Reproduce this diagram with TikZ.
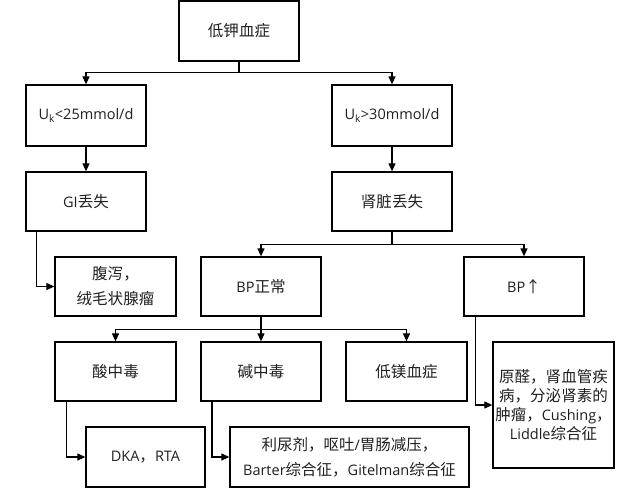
\documentclass[tikz,border=0pt]{standalone}
\usepackage{fontspec}
\setmainfont{Open Sans}
\newfontfamily\cjk{Noto Sans CJK SC}[Scale=1.07]
\usetikzlibrary{arrows.meta,calc}
\tikzset{
  box/.style={draw=black, line width=1.3pt, rectangle, inner sep=0pt, align=center,
    text=black!88, font=\fontsize{14.5}{25}\selectfont},
  arr/.style={draw=black, line width=1.2pt, -{Triangle[length=8pt,width=7pt]}},
  ln/.style={draw=black, line width=1.2pt}
}
\begin{document}
\begin{tikzpicture}[x=1pt,y=-1pt]
\useasboundingbox (0,0) rectangle (640,491);
% row 1
\node[box, minimum width=120pt, minimum height=60pt] (top) at (239,31) {\cjk 低钾血症};
% row 2
\node[box, minimum width=120pt, minimum height=61pt] (uk1) at (86,115.5) {U\textsubscript{k}<25mmol/d};
\node[box, minimum width=120pt, minimum height=61pt] (uk2) at (392,115.5) {U\textsubscript{k}>30mmol/d};
% row 3
\node[box, minimum width=120pt, minimum height=59pt] (gi) at (86,201.5) {GI{\cjk 丢失}};
\node[box, minimum width=120pt, minimum height=59pt] (ren) at (392,201.5) {\cjk 肾脏丢失};
% row 4
\node[box, minimum width=121pt, minimum height=59pt] (fx) at (115.5,286.5) {{\cjk 腹泻，}\\{\cjk 绒毛状腺瘤}};
\node[box, minimum width=120pt, minimum height=59pt] (bpn) at (261,286.5) {BP{\cjk 正常}};
\node[box, minimum width=120pt, minimum height=59pt] (bpu) at (524,286.5) {BP{\cjk ↑}};
% row 5
\node[box, minimum width=121pt, minimum height=59pt] (acid) at (115.5,371.5) {\cjk 酸中毒};
\node[box, minimum width=120pt, minimum height=59pt] (alk) at (261,371.5) {\cjk 碱中毒};
\node[box, minimum width=121pt, minimum height=59pt] (mg) at (406.5,371.5) {\cjk 低镁血症};
\node[box, minimum width=121pt, minimum height=126pt, font=\fontsize{14.5}{19}\selectfont] (big) at (553.5,405)
  {{\cjk 原醛，肾血管疾}\\{\cjk 病，分泌肾素的}\\{\cjk 肿瘤，}Cushing{\cjk ，}\\Liddle{\cjk 综合征}};
% row 6
\node[box, minimum width=119pt, minimum height=60pt] (dka) at (145.5,457) {DKA{\cjk ，}RTA};
\node[box, minimum width=239pt, minimum height=60pt] (diu) at (349.5,457)
  {{\cjk 利尿剂，呕吐}/{\cjk 胃肠减压，}\\Barter{\cjk 综合征，}Gitelman{\cjk 综合征}};
% junctions
\coordinate (j1) at (239,72.7);
\coordinate (j2) at (392,244.3);
\coordinate (j3) at (261,329.3);
% connectors
\draw[ln] (top.south) -- (j1);
\draw[arr] (j1) -| (uk1.north);
\draw[arr] (j1) -| (uk2.north);
\draw[arr] (uk1.south) -- (gi.north);
\draw[arr] (uk2.south) -- (ren.north);
\draw[ln] (ren.south) -- (j2);
\draw[arr] (j2) -| (bpn.north);
\draw[arr] (j2) -| (bpu.north);
\draw[arr] ([xshift=11.3pt]gi.south west) |- (fx.west);
\draw[ln] (bpn.south) -- (j3);
\draw[arr] (j3) -| (acid.north);
\draw[arr] (j3) -- (alk.north);
\draw[arr] (j3) -| (mg.north);
\draw[arr] ([xshift=12.3pt]acid.south west) |- (dka.west);
\draw[arr] ([xshift=11.7pt]alk.south west) |- (diu.west);
\draw[arr] ([xshift=12pt]bpu.south west) |- (big.west);
\end{tikzpicture}
\end{document}
